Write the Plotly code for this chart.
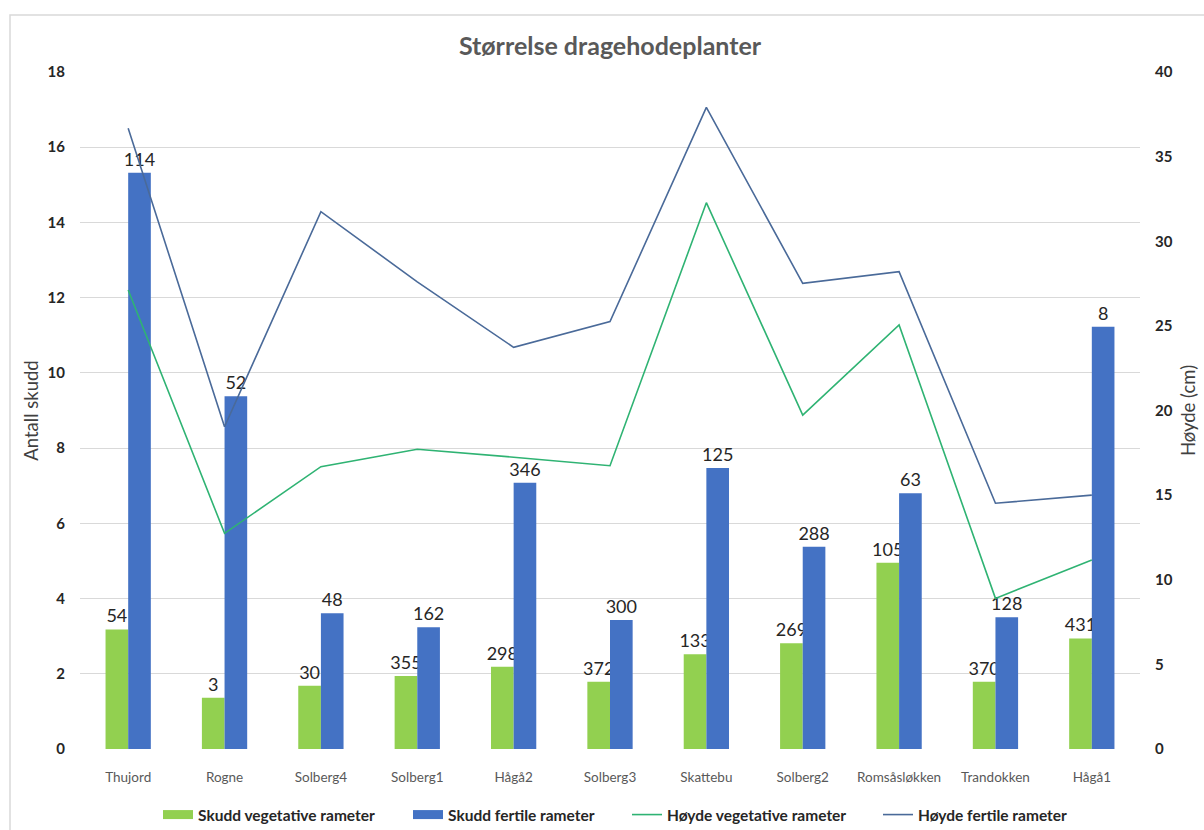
import plotly.graph_objects as go

# Sites along the x axis
categories = ["Thujord", "Rogne", "Solberg4", "Solberg1", "Hågå2", "Solberg3",
              "Skattebu", "Solberg2", "Romsåsløkken", "Trandokken", "Hågå1"]

# Mean number of shoots per ramet (left axis)
veg_shoots = [3.18, 1.36, 1.68, 1.94, 2.19, 1.79, 2.52, 2.81, 4.95, 1.79, 2.94]
fert_shoots = [15.32, 9.38, 3.61, 3.24, 7.08, 3.43, 7.47, 5.38, 6.80, 3.50, 11.23]

# Number of ramets measured (bar labels)
veg_n = [54, 3, 30, 355, 298, 372, 133, 269, 105, 370, 431]
fert_n = [114, 52, 48, 162, 346, 300, 125, 288, 63, 128, 8]

# Mean height in cm (right axis)
veg_height = [27.12, 12.74, 16.68, 17.71, 17.24, 16.74, 32.28, 19.73, 25.05, 8.90, 11.17]
fert_height = [36.67, 19.04, 31.75, 27.60, 23.73, 25.25, 37.91, 27.51, 28.20, 14.52, 15.00]

FONT = "Lato"
GREEN_BAR = "#92D050"
BLUE_BAR = "#4472C4"
GREEN_LINE = "#2FB373"
BLUE_LINE = "#4A6A99"
LABEL_FONT = dict(family=FONT, size=18, color="#262626")

# plot area in pixels (left edge and width) used to place the legend entries
PLOT_LEFT, PLOT_W = 80, 1060
legend_starts = [163, 413, 632, 883]

fig = go.Figure()

for i, (name, vals, counts, color) in enumerate([
    ("Skudd vegetative rameter", veg_shoots, veg_n, GREEN_BAR),
    ("Skudd fertile rameter", fert_shoots, fert_n, BLUE_BAR),
]):
    fig.add_trace(go.Bar(
        x=categories, y=vals, name=name, legendgroup=name, showlegend=False,
        marker=dict(color=color, line=dict(width=0)),
        text=[str(v) for v in counts], textposition="outside",
        textfont=LABEL_FONT, cliponaxis=False, constraintext="none", yaxis="y",
    ))
    # wide flat swatch for the legend entry of the bar series
    fig.add_trace(go.Scatter(
        x=[None], y=[None], name=name, legendgroup=name, mode="lines",
        line=dict(color=color, width=9), yaxis="y", hoverinfo="skip",
        legend="legend" if i == 0 else "legend2",
    ))

fig.add_trace(go.Scatter(
    x=categories, y=veg_height, name="Høyde vegetative rameter",
    mode="lines", line=dict(color=GREEN_LINE, width=1.6), yaxis="y2",
    legend="legend3",
))
fig.add_trace(go.Scatter(
    x=categories, y=fert_height, name="Høyde fertile rameter",
    mode="lines", line=dict(color=BLUE_LINE, width=1.6), yaxis="y2",
    legend="legend4",
))

legend_style = dict(
    orientation="h", xanchor="left", xref="paper",
    y=1 - 815 / 830, yanchor="middle", yref="container",
    font=dict(family=FONT, size=15.5, color="#262626", weight="bold"),
    itemwidth=30, bgcolor="rgba(0,0,0,0)",
)
legends = {}
for k, start in enumerate(legend_starts):
    key = "legend" if k == 0 else f"legend{k + 1}"
    legends[key] = dict(legend_style, x=(start - 5 - PLOT_LEFT) / PLOT_W)

fig.update_layout(
    width=1204, height=830,
    margin=dict(l=80, r=64, t=72, b=81, autoexpand=False),
    paper_bgcolor="white", plot_bgcolor="white",
    barmode="group", bargap=0.53, bargroupgap=0,
    title=dict(
        text="Størrelse dragehodeplanter",
        x=0.5, xref="paper", xanchor="center",
        y=1 - 46 / 830, yanchor="middle",
        font=dict(family=FONT, size=25, color="#595959", weight="bold"),
    ),
    font=dict(family=FONT, color="#404040"),
    xaxis=dict(
        showgrid=False, showline=False, zeroline=False,
        tickfont=dict(family=FONT, size=13.5, color="#595959"),
        ticklabelstandoff=18,
    ),
    yaxis=dict(
        range=[0, 18], dtick=2, showgrid=True, gridcolor="#D9D9D9", gridwidth=1,
        zeroline=False, showline=False,
        tickfont=dict(family=FONT, size=15, color="#262626", weight="bold"),
        ticklabelstandoff=14,
        title=dict(text="Antall skudd", font=dict(family=FONT, size=18.5, color="#404040"),
                   standoff=4),
    ),
    yaxis2=dict(
        range=[0, 40], dtick=5, overlaying="y", side="right",
        showgrid=False, zeroline=False, showline=False,
        tickfont=dict(family=FONT, size=15, color="#262626", weight="bold"),
        ticklabelstandoff=14,
        title=dict(text="Høyde (cm)", font=dict(family=FONT, size=18.5, color="#404040"),
                   standoff=10),
    ),
    shapes=[dict(
        type="rect", xref="paper", yref="paper",
        x0=(10 - PLOT_LEFT) / PLOT_W, x1=1.2, y0=-0.3, y1=1 + (72 - 15) / 677,
        line=dict(color="#D9D9D9", width=1.5), fillcolor="rgba(0,0,0,0)",
        layer="below",
    )],
    **legends,
)

fig.write_html("out.html")
